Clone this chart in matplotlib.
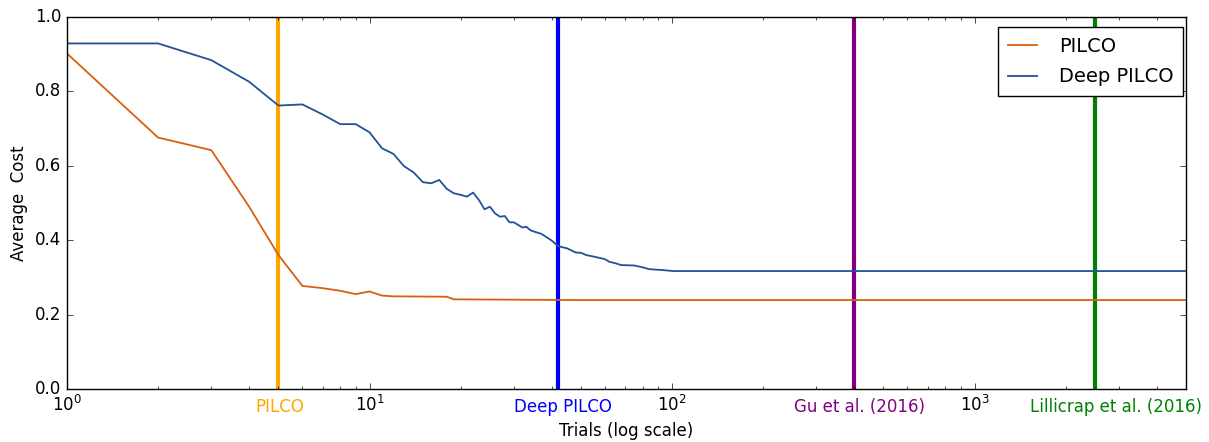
import matplotlib
matplotlib.use('Agg')
import matplotlib.pyplot as plt
import matplotlib.transforms as mtransforms

# PILCO cost curve
pilco_x = [1, 2, 3, 4, 5, 6, 7, 8, 9, 10, 11, 12, 18, 19, 30, 50, 5000]
pilco_y = [0.902, 0.676, 0.642, 0.490, 0.360, 0.277, 0.271, 0.264, 0.255, 0.262,
           0.251, 0.249, 0.248, 0.241, 0.240, 0.239, 0.239]

# Deep PILCO cost curve
deep_x = [1, 2, 3, 4, 5, 6, 7, 8, 9, 10, 11, 12, 13, 14, 15, 16, 17, 18, 19, 20,
          21, 22, 23, 24, 25, 26, 27, 28, 29, 30, 31, 32, 33, 34, 35, 37, 39, 40,
          42, 45, 48, 50, 52, 55, 60, 62, 65, 68, 75, 81, 84, 92, 101, 5000]
deep_y = [0.929, 0.929, 0.884, 0.826, 0.762, 0.765, 0.738, 0.712, 0.712, 0.690,
          0.647, 0.632, 0.599, 0.582, 0.556, 0.553, 0.562, 0.538, 0.526, 0.522,
          0.517, 0.528, 0.508, 0.483, 0.490, 0.472, 0.463, 0.465, 0.448, 0.448,
          0.441, 0.434, 0.436, 0.427, 0.423, 0.417, 0.405, 0.399, 0.384, 0.378,
          0.367, 0.366, 0.360, 0.356, 0.349, 0.342, 0.338, 0.333, 0.332, 0.326,
          0.322, 0.320, 0.317, 0.317]

# trials needed by each method
methods = ['PILCO', 'Deep PILCO', 'Gu et al. (2016)', 'Lillicrap et al. (2016)']
method_trials = [5, 42, 400, 2500]
label_pos = [5.06, 43.7, 416, 2930]
method_colors = ['orange', 'blue', 'purple', 'green']

plt.style.use('classic')
plt.rcParams['figure.facecolor'] = 'white'

fig = plt.figure(figsize=(12.09, 4.42), dpi=100)
ax = fig.add_axes([0.0554, 0.12, 0.9256, 0.8415])

for t, c in zip(method_trials, method_colors):
    ax.axvline(t, color=c, linewidth=3)

ax.plot(pilco_x, pilco_y, color='#d95f0e', linewidth=1.3, label='PILCO')
ax.plot(deep_x, deep_y, color='#235195', linewidth=1.3, label='Deep PILCO')

ax.set_xscale('log')
ax.set_xlim(1, 5000)
ax.set_ylim(0, 1.0)

trans = mtransforms.blended_transform_factory(ax.transData, ax.transAxes)
for name, p, c in zip(methods, label_pos, method_colors):
    ax.text(p, -0.048, name, color=c, fontsize=12, ha='center', va='center',
            transform=trans)

ax.set_xlabel('Trials (log scale)', fontsize=12)
ax.set_ylabel('Average  Cost', fontsize=12)
ax.tick_params(labelsize=12)
ax.legend(loc='upper right', bbox_to_anchor=(0.9973, 0.973), borderaxespad=0,
          fontsize=14, handlelength=1.5, handletextpad=1.1, labelspacing=0.6,
          borderpad=0.5, numpoints=1)

fig.savefig('out.png', dpi=100, facecolor='white')
